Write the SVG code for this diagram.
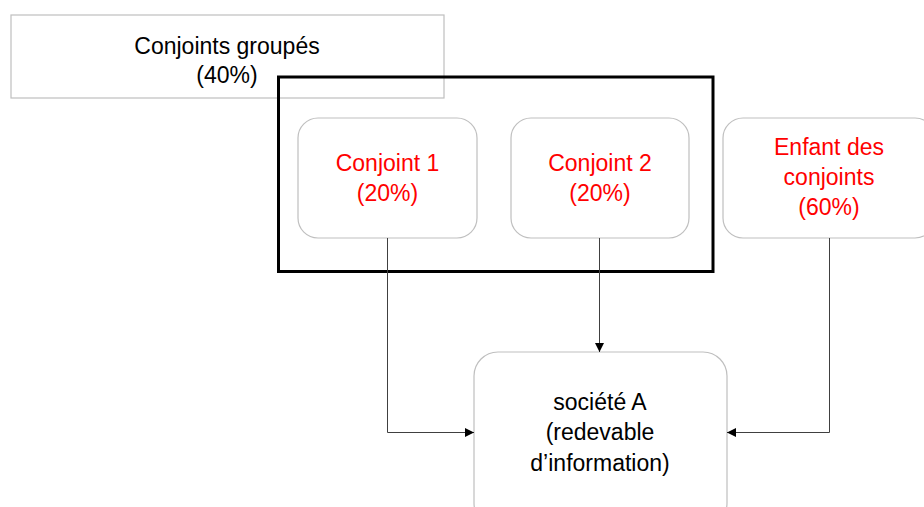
<svg xmlns="http://www.w3.org/2000/svg" width="924" height="507" viewBox="0 0 924 507">
<style>
  .box { fill: #ffffff; stroke: #BFBFBF; stroke-width: 1.2; }
  .t { font-family: "Liberation Sans", Arial, sans-serif; font-size: 23px; text-anchor: middle; }
  .blk { fill: #000000; }
  .red { fill: #FF0000; }
  .conn { fill: none; stroke: #404040; stroke-width: 1; }
</style>
<defs>
  <marker id="arr" viewBox="0 0 10 10" refX="10" refY="5" markerWidth="9" markerHeight="9" markerUnits="userSpaceOnUse" orient="auto">
    <path d="M0,0 L10,5 L0,10 Z" fill="#000000"/>
  </marker>
</defs>
<rect width="924" height="507" fill="#ffffff"/>

<g id="groupe">
  <rect class="box" x="11" y="15" width="433" height="83"/>
  <text class="t blk" x="227" y="54">Conjoints groupés</text>
  <text class="t blk" x="227" y="83">(40%)</text>
</g>

<g id="cadre">
  <rect x="278.5" y="77" width="434.5" height="194.5" fill="none" stroke="#000000" stroke-width="3"/>
</g>

<g id="conjoint1">
  <rect class="box" x="298" y="118" width="179" height="120" rx="20" ry="20"/>
  <text class="t red" x="387.5" y="171">Conjoint 1</text>
  <text class="t red" x="387.5" y="201">(20%)</text>
</g>

<g id="conjoint2">
  <rect class="box" x="511" y="118" width="178" height="120" rx="20" ry="20"/>
  <text class="t red" x="600" y="171">Conjoint 2</text>
  <text class="t red" x="600" y="201">(20%)</text>
</g>

<g id="enfant">
  <rect class="box" x="723" y="118" width="212" height="120" rx="20" ry="20"/>
  <text class="t red" x="829" y="155">Enfant des</text>
  <text class="t red" x="829" y="185">conjoints</text>
  <text class="t red" x="829" y="215">(60%)</text>
</g>

<g id="societeA">
  <rect class="box" x="474" y="352" width="253" height="175" rx="24" ry="24"/>
  <text class="t blk" x="600" y="410">société A</text>
  <text class="t blk" x="600" y="440">(redevable</text>
  <text class="t blk" x="600" y="471">d’information)</text>
</g>

<g id="connecteurs">
  <path class="conn" d="M387.5,238 V432.5 H474" marker-end="url(#arr)"/>
  <path class="conn" d="M599.5,238 V352" marker-end="url(#arr)"/>
  <path class="conn" d="M829.5,238 V432.5 H727" marker-end="url(#arr)"/>
</g>
</svg>
